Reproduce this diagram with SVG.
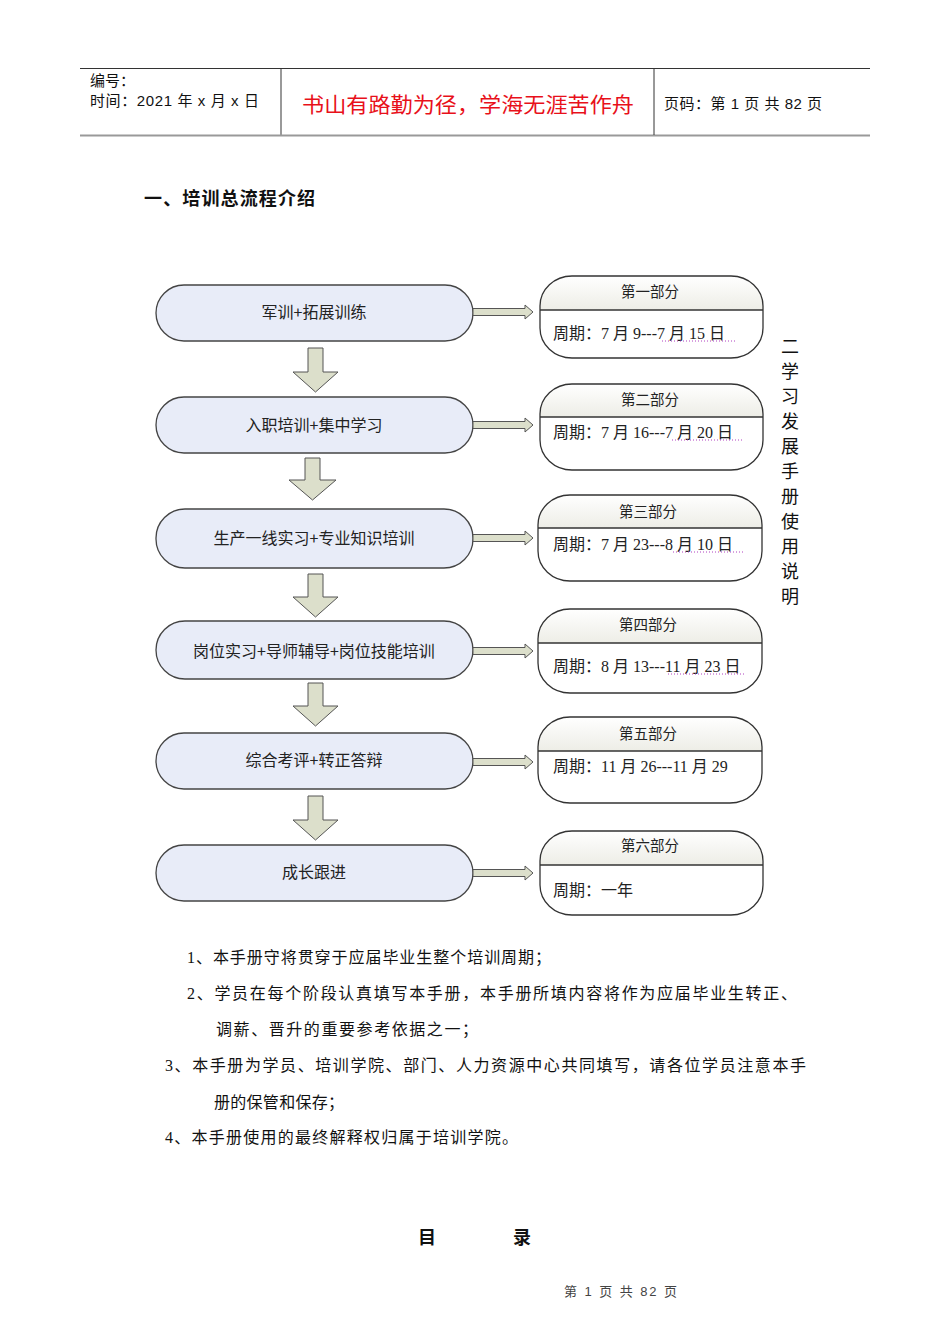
<svg xmlns="http://www.w3.org/2000/svg" width="950" height="1344" viewBox="0 0 950 1344">
<defs>
<linearGradient id="hdr" x1="0" y1="0" x2="0" y2="1">
<stop offset="0" stop-color="#ffffff"/>
<stop offset="1" stop-color="#ededE6"/>
</linearGradient>
<clipPath id="c1"><rect x="540" y="276" width="223" height="82" rx="32" ry="30"/></clipPath>
<clipPath id="c2"><rect x="540" y="384" width="223" height="86" rx="32" ry="30"/></clipPath>
<clipPath id="c3"><rect x="538" y="495" width="224" height="86" rx="32" ry="30"/></clipPath>
<clipPath id="c4"><rect x="538" y="609" width="224" height="84" rx="32" ry="30"/></clipPath>
<clipPath id="c5"><rect x="538" y="717" width="224" height="86" rx="32" ry="30"/></clipPath>
<clipPath id="c6"><rect x="540" y="831" width="223" height="84" rx="32" ry="30"/></clipPath>
</defs>
<style>
.sans{font-family:"Liberation Sans","Noto Sans CJK SC",sans-serif;}
.node{fill:#e8ecf8;stroke:#444;stroke-width:1.3;}
.ntxt{font-family:"Noto Sans CJK SC",sans-serif;font-size:16px;fill:#222;text-anchor:middle;}
.box{fill:none;stroke:#333;stroke-width:1.3;}
.hd{fill:url(#hdr);}
.div{stroke:#333;stroke-width:1.3;}
.htxt{font-family:"Noto Sans CJK SC",sans-serif;font-size:14.5px;fill:#222;text-anchor:middle;}
.btxt{font-family:"Liberation Serif","Noto Sans CJK SC",serif;font-size:16px;fill:#222;}
.arr{fill:#dcdfcb;stroke:#555;stroke-width:1;}
.spell{stroke:#b040c0;stroke-width:1;stroke-dasharray:1 2;}
.para{font-family:"Liberation Serif","Noto Sans CJK SC",serif;font-size:16px;fill:#111;}
.vt{font-family:"Noto Sans CJK SC",sans-serif;font-size:18px;fill:#111;text-anchor:middle;}
</style>
<rect width="950" height="1344" fill="#fff"/>

<g id="header">
<line x1="80" y1="68.5" x2="870" y2="68.5" stroke="#333" stroke-width="1"/>
<line x1="80" y1="135.5" x2="870" y2="135.5" stroke="#999" stroke-width="2"/>
<line x1="281" y1="69" x2="281" y2="135" stroke="#999" stroke-width="2"/>
<line x1="654" y1="69" x2="654" y2="135" stroke="#333" stroke-width="1"/>
<text class="sans" x="90" y="86" font-size="15" fill="#111">编号：</text>
<text class="sans" x="90" y="106" font-size="15" fill="#111" textLength="169" lengthAdjust="spacing">时间：2021 年 x 月 x 日</text>
<text x="302" y="112" font-family="Noto Sans CJK SC, sans-serif" font-size="21" fill="#e8101a" textLength="332" lengthAdjust="spacingAndGlyphs">书山有路勤为径，学海无涯苦作舟</text>
<text class="sans" x="664" y="109" font-size="15" fill="#111" textLength="158" lengthAdjust="spacing">页码：第 1 页  共 82 页</text>
</g>

<text id="title" x="144" y="205" font-family="Noto Sans CJK SC, sans-serif" font-size="18" font-weight="bold" fill="#111" textLength="171" lengthAdjust="spacing">一、培训总流程介绍</text>

<g id="n1"><rect class="node" x="156" y="285" width="317" height="56" rx="28"/><text class="ntxt" x="314" y="318">军训+拓展训练</text></g>
<g id="n2"><rect class="node" x="156" y="397" width="317" height="56" rx="28"/><text class="ntxt" x="314" y="431">入职培训+集中学习</text></g>
<g id="n3"><rect class="node" x="156" y="509" width="317" height="59" rx="29"/><text class="ntxt" x="314" y="544">生产一线实习+专业知识培训</text></g>
<g id="n4"><rect class="node" x="156" y="621" width="317" height="58" rx="29"/><text class="ntxt" x="314" y="657">岗位实习+导师辅导+岗位技能培训</text></g>
<g id="n5"><rect class="node" x="156" y="733" width="317" height="56" rx="28"/><text class="ntxt" x="314" y="766">综合考评+转正答辩</text></g>
<g id="n6"><rect class="node" x="156" y="845" width="317" height="56" rx="28"/><text class="ntxt" x="314" y="878">成长跟进</text></g>

<g id="b1">
<g clip-path="url(#c1)"><rect class="hd" x="540" y="276" width="223" height="34"/></g>
<rect class="box" x="540" y="276" width="223" height="82" rx="32" ry="30"/>
<line class="div" x1="540" y1="310" x2="763" y2="310"/>
<text class="htxt" x="650" y="297">第一部分</text>
<text class="btxt" x="553" y="339">周期：7 月 9---7 月 15 日</text>
<line class="spell" x1="662" y1="341" x2="736" y2="341"/>
</g>
<g id="b2">
<g clip-path="url(#c2)"><rect class="hd" x="540" y="384" width="223" height="33"/></g>
<rect class="box" x="540" y="384" width="223" height="86" rx="32" ry="30"/>
<line class="div" x1="540" y1="417" x2="763" y2="417"/>
<text class="htxt" x="650" y="405">第二部分</text>
<text class="btxt" x="553" y="438">周期：7 月 16---7 月 20 日</text>
<line class="spell" x1="672" y1="440" x2="744" y2="440"/>
</g>
<g id="b3">
<g clip-path="url(#c3)"><rect class="hd" x="538" y="495" width="224" height="33"/></g>
<rect class="box" x="538" y="495" width="224" height="86" rx="32" ry="30"/>
<line class="div" x1="538" y1="528" x2="762" y2="528"/>
<text class="htxt" x="648" y="517">第三部分</text>
<text class="btxt" x="553" y="550">周期：7 月 23---8 月 10 日</text>
<line class="spell" x1="673" y1="552" x2="744" y2="552"/>
</g>
<g id="b4">
<g clip-path="url(#c4)"><rect class="hd" x="538" y="609" width="224" height="34"/></g>
<rect class="box" x="538" y="609" width="224" height="84" rx="32" ry="30"/>
<line class="div" x1="538" y1="643" x2="762" y2="643"/>
<text class="htxt" x="648" y="630">第四部分</text>
<text class="btxt" x="553" y="672">周期：8 月 13---11 月 23 日</text>
<line class="spell" x1="668" y1="674" x2="746" y2="674"/>
</g>
<g id="b5">
<g clip-path="url(#c5)"><rect class="hd" x="538" y="717" width="224" height="34"/></g>
<rect class="box" x="538" y="717" width="224" height="86" rx="32" ry="30"/>
<line class="div" x1="538" y1="751" x2="762" y2="751"/>
<text class="htxt" x="648" y="739">第五部分</text>
<text class="btxt" x="553" y="772">周期：11 月 26---11 月 29</text>
</g>
<g id="b6">
<g clip-path="url(#c6)"><rect class="hd" x="540" y="831" width="223" height="34"/></g>
<rect class="box" x="540" y="831" width="223" height="84" rx="32" ry="30"/>
<line class="div" x1="540" y1="865" x2="763" y2="865"/>
<text class="htxt" x="650" y="851">第六部分</text>
<text class="btxt" x="553" y="896">周期：一年</text>
</g>

<g id="connectors">
<path class="arr" d="M308 348 H323 V372 H338 L315.5 392 L293 372 H308 Z"/>
<path class="arr" d="M305 458 H320 V480 H336 L312.5 500 L289 480 H305 Z"/>
<path class="arr" d="M308 574 H323 V597 H338 L315.5 617 L293 597 H308 Z"/>
<path class="arr" d="M308 683 H323 V706 H338 L315.5 726 L293 706 H308 Z"/>
<path class="arr" d="M308 796 H323 V820 H338 L315.5 840 L293 820 H308 Z"/>
<path class="arr" d="M473 308.5 H525 V305 L533 312 L525 319 V315.5 H473 Z"/>
<path class="arr" d="M473 421.5 H525 V418 L533 425 L525 432 V428.5 H473 Z"/>
<path class="arr" d="M473 534.5 H525 V531 L533 538 L525 545 V541.5 H473 Z"/>
<path class="arr" d="M473 647.5 H525 V644 L533 651 L525 658 V654.5 H473 Z"/>
<path class="arr" d="M473 758.5 H525 V755 L533 762 L525 769 V765.5 H473 Z"/>
<path class="arr" d="M473 869.5 H525 V866 L533 873 L525 880 V876.5 H473 Z"/>
</g>

<g id="vertical-text">
<text class="vt" x="790" y="353">二</text>
<text class="vt" x="790" y="378">学</text>
<text class="vt" x="790" y="403">习</text>
<text class="vt" x="790" y="428">发</text>
<text class="vt" x="790" y="453">展</text>
<text class="vt" x="790" y="478">手</text>
<text class="vt" x="790" y="503">册</text>
<text class="vt" x="790" y="528">使</text>
<text class="vt" x="790" y="553">用</text>
<text class="vt" x="790" y="578">说</text>
<text class="vt" x="790" y="603">明</text>
</g>

<g id="notes">
<text class="para" x="187" y="963" textLength="364" lengthAdjust="spacing">1、本手册守将贯穿于应届毕业生整个培训周期；</text>
<text class="para" x="187" y="999" textLength="610" lengthAdjust="spacing">2、学员在每个阶段认真填写本手册，本手册所填内容将作为应届毕业生转正、</text>
<text class="para" x="216" y="1035" textLength="262" lengthAdjust="spacing">调薪、晋升的重要参考依据之一；</text>
<text class="para" x="165" y="1071" textLength="641" lengthAdjust="spacing">3、本手册为学员、培训学院、部门、人力资源中心共同填写，请各位学员注意本手</text>
<text class="para" x="214" y="1108" textLength="130" lengthAdjust="spacing">册的保管和保存；</text>
<text class="para" x="165" y="1143" textLength="353" lengthAdjust="spacing">4、本手册使用的最终解释权归属于培训学院。</text>
</g>

<text x="418" y="1244" font-family="Noto Sans CJK SC, sans-serif" font-size="18" font-weight="bold" fill="#111">目</text>
<text x="513" y="1244" font-family="Noto Sans CJK SC, sans-serif" font-size="18" font-weight="bold" fill="#111">录</text>
<text x="564" y="1296" font-family="Liberation Sans, Noto Sans CJK SC, sans-serif" font-size="13" fill="#444" textLength="113" lengthAdjust="spacing">第 1 页 共 82 页</text>
</svg>
